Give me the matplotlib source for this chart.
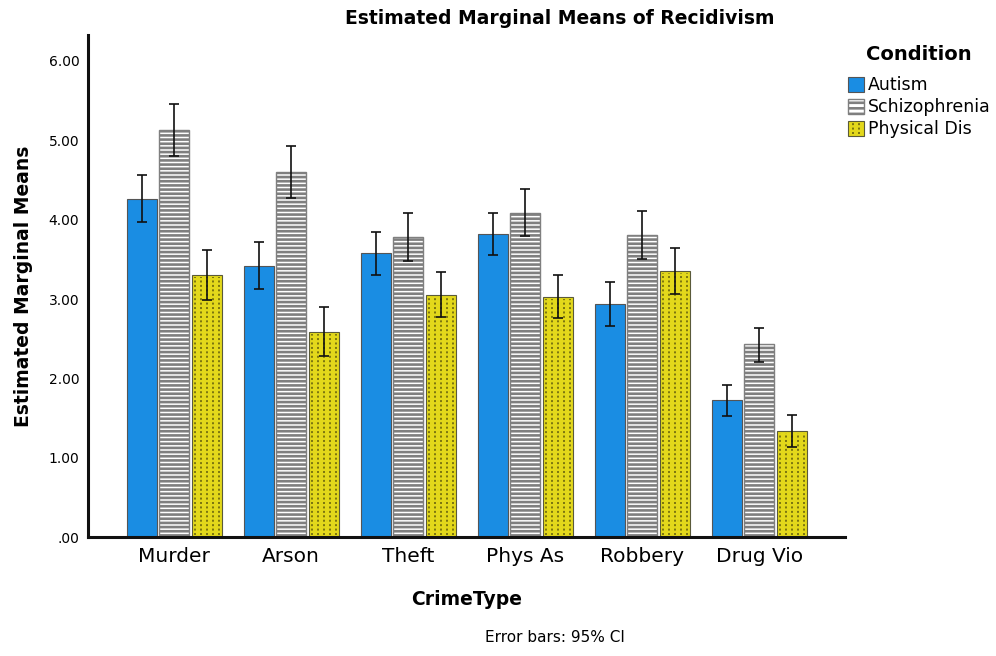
import matplotlib
matplotlib.use("Agg")
import matplotlib.pyplot as plt
import numpy as np
from matplotlib.legend_handler import HandlerPatch
from matplotlib.lines import Line2D
from matplotlib.patches import Patch, Rectangle

crimes = ["Murder", "Arson", "Theft", "Phys As", "Robbery", "Drug Vio"]
conditions = ["Autism", "Schizophrenia", "Physical Dis"]

autism = [4.26, 3.42, 3.58, 3.82, 2.94, 1.73]
autism_lo = [3.97, 3.13, 3.30, 3.55, 2.66, 1.53]
autism_hi = [4.56, 3.72, 3.85, 4.08, 3.21, 1.92]

schizo = [5.13, 4.60, 3.78, 4.09, 3.81, 2.43]
schizo_lo = [4.80, 4.27, 3.48, 3.80, 3.50, 2.21]
schizo_hi = [5.46, 4.93, 4.08, 4.39, 4.11, 2.64]

physical = [3.31, 2.59, 3.05, 3.03, 3.36, 1.34]
physical_lo = [2.99, 2.28, 2.77, 2.76, 3.07, 1.14]
physical_hi = [3.62, 2.90, 3.34, 3.31, 3.64, 1.54]

yticks = [0, 1, 2, 3, 4, 5, 6]
ytick_labels = [".00", "1.00", "2.00", "3.00", "4.00", "5.00", "6.00"]

BLUE = "#1a8de3"
YELLOW = "#e3d81b"
DOTS = "#5e5a0c"

plt.rcParams["hatch.linewidth"] = 1.9

fig = plt.figure(figsize=(9.96, 6.56), dpi=100)
ax = fig.add_axes([0.088, 0.181, 0.76, 0.766])

x = np.arange(len(crimes))
width = 0.256
step = 0.278


def draw_errors(xs, vals, lo, hi):
    vals = np.array(vals)
    yerr = [vals - np.array(lo), np.array(hi) - vals]
    ax.errorbar(xs, vals, yerr=yerr, fmt="none", ecolor="#111111",
                elinewidth=1.2, capsize=3.3, capthick=1.2, zorder=5)


# autism: plain blue
xa = x - step
ax.bar(xa, autism, width, color=BLUE, edgecolor="#555555", linewidth=0.8, zorder=2)
draw_errors(xa, autism, autism_lo, autism_hi)

# schizophrenia: white with grey horizontal stripes
xs = x
ax.bar(xs, schizo, width, color="white", edgecolor="#7f7f7f", linewidth=1.0,
       hatch="----", zorder=2)
draw_errors(xs, schizo, schizo_lo, schizo_hi)

# physical disability: yellow with dotted vertical lines
xp = x + step
ax.bar(xp, physical, width, color=YELLOW, edgecolor="#5a5a3a", linewidth=0.8, zorder=2)
for xc, v in zip(xp, physical):
    for off in (-0.4, -0.2, 0.0, 0.2, 0.4):
        ax.plot([xc + off * width, xc + off * width], [0.03, v - 0.03],
                color=DOTS, lw=1.1, ls=(0, (1.3, 1.6)), zorder=3)
draw_errors(xp, physical, physical_lo, physical_hi)

ax.set_xlim(-0.74, 5.73)
ax.set_ylim(0, 6.33)
ax.set_yticks(yticks)
ax.set_yticklabels(ytick_labels, fontsize=10)
ax.set_xticks(x)
ax.set_xticklabels(crimes, fontsize=14.5)
ax.tick_params(axis="both", length=0)
ax.tick_params(axis="y", pad=6)
ax.tick_params(axis="x", pad=7)

for side in ("top", "right"):
    ax.spines[side].set_visible(False)
for side in ("left", "bottom"):
    ax.spines[side].set_linewidth(2.2)
    ax.spines[side].set_color("#111111")

ax.set_ylabel("Estimated Marginal Means", fontsize=13.5, fontweight="bold", labelpad=11)
ax.set_xlabel("CrimeType", fontsize=13.5, fontweight="bold", labelpad=17)

fig.text(560 / 996, 1 - 18 / 656, "Estimated Marginal Means of Recidivism",
         ha="center", va="center", fontsize=13.5, fontweight="bold")
fig.text(555 / 996, 1 - 637 / 656, "Error bars: 95% CI",
         ha="center", va="center", fontsize=11)
fig.text(919 / 996, 1 - 55 / 656, "Condition",
         ha="center", va="center", fontsize=14, fontweight="bold")


class DottedHandler(HandlerPatch):
    def create_artists(self, legend, orig_handle, xdescent, ydescent,
                       width, height, fontsize, trans):
        x0, y0 = -xdescent, -ydescent
        rect = Rectangle((x0, y0), width, height, facecolor=YELLOW,
                         edgecolor="#5a5a3a", lw=0.8, transform=trans)
        arts = [rect]
        for f in (0.33, 0.67):
            arts.append(Line2D([x0 + f * width] * 2, [y0 + 1, y0 + height - 1],
                               color=DOTS, lw=1.1, ls=(0, (1.3, 1.6)),
                               transform=trans))
        return arts


handles = [
    Patch(facecolor=BLUE, edgecolor="#555555", lw=0.8),
    Patch(facecolor="white", edgecolor="#7f7f7f", hatch="---", lw=1.0),
    Patch(facecolor=YELLOW, edgecolor="#5a5a3a", lw=0.8),
]
fig.legend(handles, conditions, loc="upper left",
           bbox_to_anchor=(848 / 996, 1 - 76 / 656), frameon=False,
           fontsize=12.5, handlelength=0.95, handleheight=0.95,
           handletextpad=0.2, labelspacing=0.24, borderaxespad=0,
           borderpad=0, handler_map={handles[2]: DottedHandler()})

fig.savefig("out.png", dpi=100)
